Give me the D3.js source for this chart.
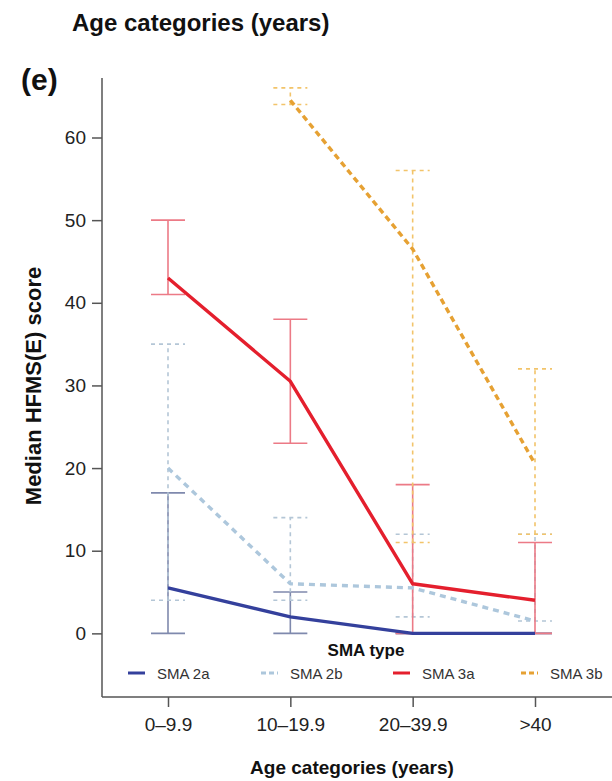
<!DOCTYPE html>
<html><head><meta charset="utf-8">
<script src="https://cdn.jsdelivr.net/npm/d3@7"></script>
<style>body{margin:0;background:#fff}svg{display:block}text{font-family:"Liberation Sans",Arial,sans-serif}</style>
</head><body>
<svg id="c" width="612" height="781"></svg>
<script>
const categories = ["0\u20139.9", "10\u201319.9", "20\u201339.9", ">40"];
const yTicks = [0, 10, 20, 30, 40, 50, 60];
const seriesNames = ["SMA 2a", "SMA 2b", "SMA 3a", "SMA 3b"];
// medians
const sma2a = [5.5, 2, 0, 0];
const sma2b = [20, 6, 5.5, 1.5];
const sma3a = [43, 30.5, 6, 4];
const sma3b = [null, 64.5, 46.5, 20.5];
// error bar lows / highs
const sma2aLow = [0, 0, 0, 0];
const sma2aHigh = [17, 5, 0, 0];
const sma2bLow = [4, 4, 2, 1.5];
const sma2bHigh = [35, 14, 12, 12];
const sma3aLow = [41, 23, 0, 0];
const sma3aHigh = [50, 38, 18, 11];
const sma3bLow = [null, 64, 11, 12];
const sma3bHigh = [null, 66, 56, 32];

const svg = d3.select("#c");
const x = d3.scalePoint().domain(categories).range([168, 535]);
const y = d3.scaleLinear().domain([-7.7, 67.2]).range([697, 78]);

const styles = [
  {name: seriesNames[0], med: sma2a, lo: sma2aLow, hi: sma2aHigh, color: "#34409c", ecolor: "#7f89ad", dash: null, edash: null},
  {name: seriesNames[1], med: sma2b, lo: sma2bLow, hi: sma2bHigh, color: "#adc7dc", ecolor: "#b4c6d6", dash: "6,5", edash: "4,4"},
  {name: seriesNames[2], med: sma3a, lo: sma3aLow, hi: sma3aHigh, color: "#e41f2d", ecolor: "#ec7a86", dash: null, edash: null},
  {name: seriesNames[3], med: sma3b, lo: sma3bLow, hi: sma3bHigh, color: "#e6a133", ecolor: "#f2c46a", dash: "6,4", edash: "4,4"}
];

// axes
const axisColor = "#555";
const yAxis = svg.append("g").attr("transform", "translate(102,0)")
  .call(d3.axisLeft(y).tickValues(yTicks).tickSize(10).tickPadding(6));
yAxis.select(".domain").attr("d", `M0,${y(67.2)}V${y(-7.7)}`);
const xAxis = svg.append("g").attr("transform", "translate(0,697)")
  .call(d3.axisBottom(x).tickSize(10).tickPadding(11));
xAxis.select(".domain").attr("d", "M102,0H612");
[yAxis, xAxis].forEach(g => {
  g.selectAll("path,line").attr("stroke", axisColor).attr("stroke-width", 1.5);
  g.selectAll("text").attr("fill", "#222").attr("font-size", 19)
    .style("font-family", '"Liberation Sans",Arial,sans-serif');
});

const cap = 17;
// error bars
styles.forEach(s => {
  const g = svg.append("g");
  categories.forEach((c, i) => {
    if (s.lo[i] == null) return;
    const cx = x(c);
    const common = sel => sel.attr("stroke", s.ecolor).attr("stroke-width", 1.6).attr("stroke-dasharray", s.edash);
    g.append("line").attr("x1", cx).attr("x2", cx).attr("y1", y(s.lo[i])).attr("y2", y(s.hi[i])).call(common);
    g.append("line").attr("x1", cx - cap).attr("x2", cx + cap).attr("y1", y(s.lo[i])).attr("y2", y(s.lo[i])).call(common);
    g.append("line").attr("x1", cx - cap).attr("x2", cx + cap).attr("y1", y(s.hi[i])).attr("y2", y(s.hi[i])).call(common);
  });
});
// median lines
const line = d3.line().defined(d => d.v != null).x(d => x(d.c)).y(d => y(d.v));
styles.forEach(s => {
  svg.append("path").datum(categories.map((c, i) => ({c, v: s.med[i]})))
    .attr("d", line).attr("fill", "none").attr("stroke", s.color)
    .attr("stroke-width", 3.4).attr("stroke-dasharray", s.dash).attr("stroke-linejoin", "round");
});

// titles
svg.append("text").attr("x", 72).attr("y", 31).attr("font-size", 24).attr("font-weight", "bold").attr("fill", "#111").text("Age categories (years)");
svg.append("text").attr("x", 21).attr("y", 90).attr("font-size", 30).attr("font-weight", "bold").attr("fill", "#111").text("(e)");
svg.append("text").attr("transform", "translate(41,386) rotate(-90)").attr("text-anchor", "middle")
  .attr("font-size", 22).attr("font-weight", "bold").attr("fill", "#111").text("Median HFMS(E) score");
svg.append("text").attr("x", 352).attr("y", 774).attr("text-anchor", "middle")
  .attr("font-size", 19).attr("font-weight", "bold").attr("fill", "#111").text("Age categories (years)");

// legend
svg.append("text").attr("x", 366).attr("y", 656).attr("text-anchor", "middle")
  .attr("font-size", 17).attr("font-weight", "bold").attr("fill", "#111").text("SMA type");
const legX = [128, 261, 393, 521];
styles.forEach((s, i) => {
  const g = svg.append("g").attr("transform", `translate(${legX[i]},673)`);
  g.append("line").attr("x1", 0).attr("x2", 17).attr("y1", 0).attr("y2", 0)
    .attr("stroke", s.color).attr("stroke-width", 3).attr("stroke-dasharray", s.dash ? "5,3" : null);
  g.append("text").attr("x", 29).attr("y", 5.5).attr("font-size", 15).attr("fill", "#333").text(s.name);
});
</script>
</body></html>
